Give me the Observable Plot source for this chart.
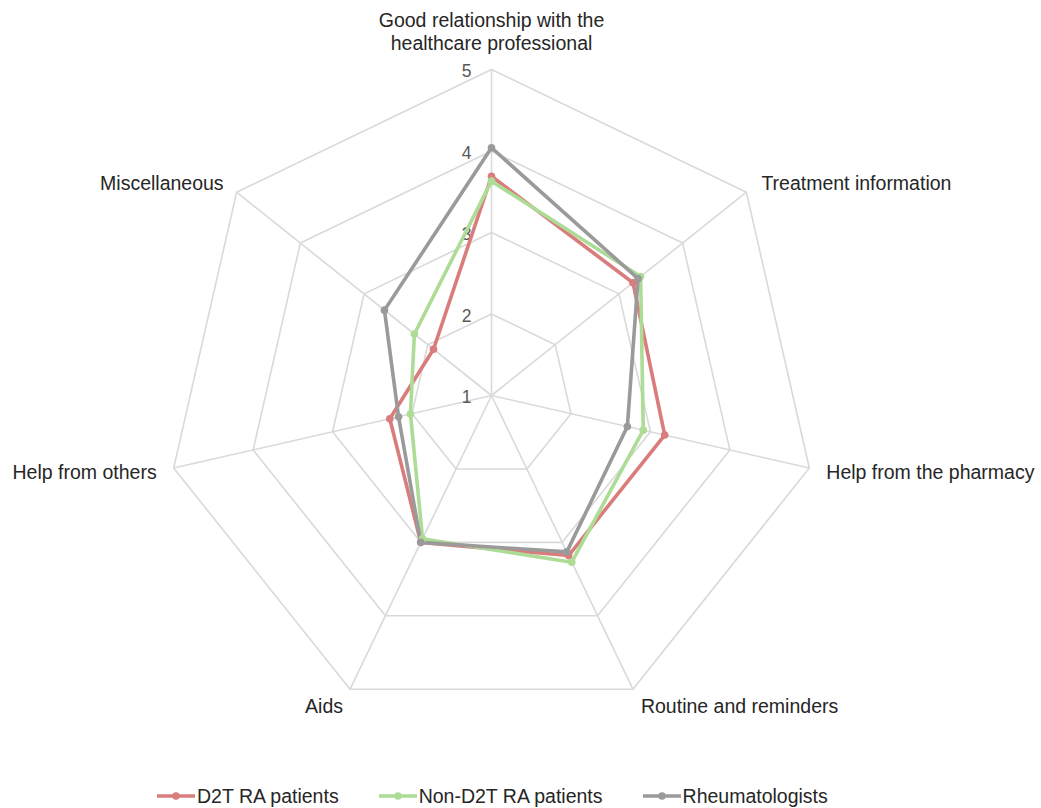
<!DOCTYPE html>
<html>
<head>
<meta charset="utf-8">
<script src="https://cdn.jsdelivr.net/npm/d3@7"></script>
<script src="https://cdn.jsdelivr.net/npm/@observablehq/plot@0.6"></script>
<style>
  html, body { margin: 0; padding: 0; background: #fff; }
  body { font-family: "Liberation Sans", Arial, sans-serif; width: 1041px; height: 808px; overflow: hidden; }
  #legend { display: flex; justify-content: flex-start; align-items: center; gap: 40px; height: 52px; padding-left: 157px; font-size: 19.5px; color: #262626; }
  .item { display: flex; align-items: center; }
  .item svg { margin-right: 2px; }
</style>
</head>
<body>
<div id="chart"></div>
<div id="legend"></div>
<script>
// ---- data ----
const axisLabels = [
  "Good relationship with the\nhealthcare professional",
  "Treatment information",
  "Help from the pharmacy",
  "Routine and reminders",
  "Aids",
  "Help from others",
  "Miscellaneous"
];
const seriesNames = ["D2T RA patients", "Non-D2T RA patients", "Rheumatologists"];
const d2tValues    = [3.69, 3.22, 3.18, 3.18, 3.00, 2.28, 1.91];
const nonD2tValues = [3.63, 3.34, 2.91, 3.27, 2.95, 2.02, 2.21];
const rheumValues  = [4.04, 3.30, 2.71, 3.13, 3.00, 2.17, 2.68];
const ringTicks = [1, 2, 3, 4, 5];
const seriesColors = ["#d97c7c", "#addc97", "#9a9a9a"];

// ---- geometry helpers ----
const W = 1041, H = 770, CX = 491, CY = 395, UNIT = 81.5;
const minV = 1, maxV = 5;
const n = axisLabels.length;
const ang = i => -Math.PI / 2 + i * 2 * Math.PI / n;
const px = (v, i) => (v - minV) * Math.cos(ang(i));
const py = (v, i) => (v - minV) * Math.sin(ang(i));

const valuesBySeries = [d2tValues, nonD2tValues, rheumValues];

const ringPts = [];
ringTicks.filter(t => t > minV).forEach(t => {
  for (let i = 0; i <= n; i++) ringPts.push({ring: t, x: px(t, i % n), y: py(t, i % n)});
});
const spokes = axisLabels.map((a, i) => ({x1: 0, y1: 0, x2: px(maxV, i), y2: py(maxV, i)}));
const seriesPts = [];
seriesNames.forEach((s, k) => valuesBySeries[k].forEach((v, i) => seriesPts.push({series: s, axis: axisLabels[i], value: v, x: px(v, i), y: py(v, i)})));
const tickPts = ringTicks.map(t => ({t, x: 0, y: py(t, 0)}));

// label layout (pixel offsets from the outer vertex)
const labelLayout = [
  {textAnchor: "middle", dx: 0, dy: -38},
  {textAnchor: "start", dx: 15, dy: -9},
  {textAnchor: "start", dx: 17, dy: 4},
  {textAnchor: "start", dx: 8, dy: 17},
  {textAnchor: "end", dx: -7, dy: 17},
  {textAnchor: "end", dx: -17, dy: 4},
  {textAnchor: "end", dx: -13, dy: -9}
];
const labelMarks = axisLabels.map((a, i) => Plot.text([{label: a, x: px(maxV, i), y: py(maxV, i)}], {
  x: "x", y: "y", text: "label",
  textAnchor: labelLayout[i].textAnchor, dx: labelLayout[i].dx, dy: labelLayout[i].dy,
  fontSize: 19.5, fill: "#262626", lineHeight: 1.16
}));

const chart = Plot.plot({
  width: W, height: H,
  marginTop: 0, marginRight: 0, marginBottom: 0, marginLeft: 0,
  style: {fontFamily: '"Liberation Sans", Arial, sans-serif', background: "#fff"},
  x: {domain: [-CX / UNIT, (W - CX) / UNIT], range: [0, W], axis: null},
  y: {domain: [-CY / UNIT, (H - CY) / UNIT], range: [0, H], axis: null},
  color: {domain: seriesNames, range: seriesColors},
  marks: [
    Plot.line(ringPts, {x: "x", y: "y", z: "ring", stroke: "#d9d9d9", strokeWidth: 1.6}),
    Plot.link(spokes, {x1: "x1", y1: "y1", x2: "x2", y2: "y2", stroke: "#d9d9d9", strokeWidth: 1.6}),
    Plot.text(tickPts, {x: "x", y: "y", text: d => String(d.t), dx: -25, dy: 2, fontSize: 17.5, fill: "#595959"}),
    Plot.line(seriesPts, {x: "x", y: "y", z: "series", stroke: "series", strokeWidth: 3.6, curve: "linear-closed", strokeLinejoin: "round"}),
    Plot.dot(seriesPts, {x: "x", y: "y", fill: "series", r: 3.8, stroke: null}),
    ...labelMarks
  ]
});
document.getElementById("chart").appendChild(chart);

// legend
const legend = document.getElementById("legend");
seriesNames.forEach((s, k) => {
  const item = document.createElement("div");
  item.className = "item";
  item.innerHTML = `<svg width="38" height="12"><line x1="0" y1="6" x2="38" y2="6" stroke="${seriesColors[k]}" stroke-width="3.5"/><circle cx="19" cy="6" r="3.8" fill="${seriesColors[k]}"/></svg><span>${s}</span>`;
  legend.appendChild(item);
});
</script>
</body>
</html>
